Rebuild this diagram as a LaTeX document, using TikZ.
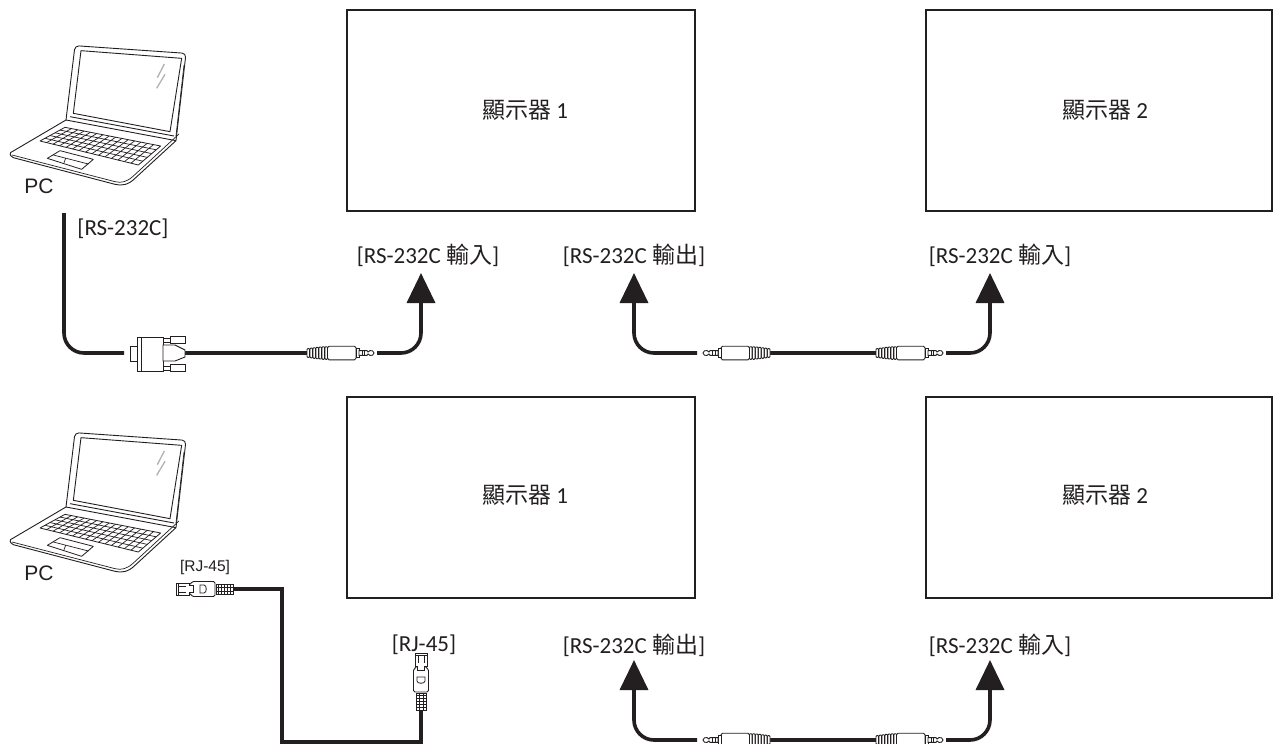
\documentclass[tikz,border=0pt]{standalone}
\usepackage{fontspec}
\setmainfont{Carlito}
\newfontfamily\cjk{Noto Sans CJK TC}
\newfontfamily\arial{Liberation Sans}
\usetikzlibrary{arrows.meta,calc}
\definecolor{ink}{HTML}{231F20}
\tikzset{
  x=1bp,y=-1bp,
  monitor/.style={draw=ink,line width=2bp,fill=white,minimum width=348bp,minimum height=201bp,inner sep=0pt,outer sep=0pt},
  lbl/.style={text=ink,font=\fontsize{23bp}{25bp}\selectfont,inner sep=0pt},
  pclbl/.style={text=ink,font=\arial\fontsize{21bp}{23bp}\selectfont,inner sep=0pt},
  cable/.style={draw=ink,line width=3.6bp},
  curved/.style={cable,rounded corners=20bp},
  arrowed/.style={curved,-{Triangle[length=30bp,width=28bp]}},
  thin part/.style={draw=ink,line width=0.9bp,fill=white},
  jack/.pic={
    \fill[white] (0,-6) rectangle (20,6);
    \foreach \u/\h in {0/4.4,3/4.9,6/5.3,9/5.7,12/6,15/6.3,18/6.3}{
      \draw[ink,line width=0.9bp,fill=white,rounded corners=0.8bp] (\u,-\h) rectangle (\u+2.6,\h);}
    \draw[thin part,rounded corners=1.5bp] (20.5,-6.8) rectangle (49,6.8);
    \draw[thin part] (49,-4.2) rectangle (52,4.2);
    \draw[thin part] (52,-2.4) -- (60,-2.4) -- (61,-1) -- (63,-2.4) -- (65.5,-2.2) -- (67,0) -- (65.5,2.2) -- (63,2.4) -- (61,1) -- (60,2.4) -- (52,2.4) -- cycle;
    \draw[ink,line width=0.7bp] (55,-2.4) -- (55,2.4) (57.5,-2.4) -- (57.5,2.4);
  },
  rjplug/.pic={
    \draw[thin part] (-17,-5) rectangle (0,5);
    \foreach \u in {-15,-12,...,-1}{\draw[ink,line width=1bp] (\u,-5) -- (\u,5);}
    \draw[ink,line width=1bp] (-17,-2) -- (0,-2) (-17,2) -- (0,2);
    \draw[thin part,rounded corners=1.5bp] (-18,-7.5) -- (-41,-7.5) -- (-43,-4) -- (-46,-4) -- (-46,4) -- (-43,4) -- (-41,7.5) -- (-18,7.5) -- cycle;
    \draw[thin part] (-44,-6) -- (-57,-6) -- (-57,6) -- (-44,6) -- (-44,3.5) -- (-40,3.5) -- (-40,-3.5) -- (-44,-3.5) -- cycle;
    \draw[ink,line width=0.8bp] (-55,-3) -- (-47,-3) (-55,3) -- (-47,3) (-55,-6) -- (-55,6);
    \draw[ink,line width=0.8bp,fill=white] (-33,-4) -- (-29,-4) .. controls (-26,-4) and (-26,4) .. (-29,4) -- (-33,4) -- cycle;
  },
  dbplug/.pic={
    \draw[thin part] (130,346) rectangle (137,361);
    \draw[thin part] (137,337) rectangle (163,371);
    \draw[ink,line width=0.8bp] (141,337) -- (141,371);
    \draw[thin part] (163,338) rectangle (170,342);
    \draw[thin part] (163,366) rectangle (170,370);
    \draw[thin part] (170,336) rectangle (185,343);
    \draw[thin part] (170,364) rectangle (185,371);
    \draw[thin part] (163,345) -- (175,345) -- (185,350) -- (185,357) -- (175,361) -- (163,361) -- cycle;
  },
  laptop/.pic={
    \begin{scope}[scale=1/3,line join=round]
    \draw[ink,line width=0.9bp,rounded corners=4bp] (198,270) -- (225,47) -- (558,70) -- (528,332);
    \draw[ink,line width=0.9bp] (243,62) -- (545,85) -- (510,305) -- (220,250) -- cycle;
    \draw[ink,line width=0.9bp] (198,270) -- (528,332);
    \draw[ink,line width=0.9bp] (210,260) -- (522,318);
    \draw[ink,line width=0.7bp] (552,105) -- (528,318);
    \draw[ink,line width=0.9bp,rounded corners=1.5bp] (198,270) -- (28,370) -- (36,382) -- (345,463);
    \draw[ink,line width=0.9bp] (345,463) .. controls (365,468) and (385,465) .. (405,445) -- (528,332);
    \draw[ink,line width=0.7bp] (36,375) -- (345,455) .. controls (365,460) and (380,455) .. (398,440) -- (537,312);
    \coordinate (kA) at (195,292); \coordinate (kB) at (482,348);
    \coordinate (kC) at (415,405); \coordinate (kD) at (120,333);
    \draw[ink,line width=0.8bp] (kA) -- (kB) -- (kC) -- (kD) -- cycle;
    \foreach \t in {0.2,0.4,0.6,0.8}{\draw[ink,line width=0.7bp] ($(kA)!\t!(kD)$) -- ($(kB)!\t!(kC)$);}
    \foreach \t in {0.067,0.133,...,0.95}{\draw[ink,line width=0.7bp] ($(kA)!\t!(kB)$) -- ($(kD)!\t!(kC)$);}
    \draw[ink,line width=0.8bp] (180,362) -- (280,388) -- (245,418) -- (142,385) -- cycle;
    \draw[ink,line width=0.7bp] (160,375) -- (265,402) (197,385) -- (192,398);
    \draw[gray!60,line width=1.3bp] (493,102) -- (472,143) (495,133) -- (470,175);
    \end{scope}
  },
}
\begin{document}
\begin{tikzpicture}
\useasboundingbox (0,0) rectangle (1273,744);
\clip (0,0) rectangle (1273,744);
\fill[white] (0,0) rectangle (1273,744);

% monitors
\node[monitor,anchor=north west] (m1) at (347,10) {};
\node[monitor,anchor=north west,minimum width=346bp] (m2) at (926,10) {};
\node[monitor,anchor=north west] (m3) at (347,397) {};
\node[monitor,anchor=north west,minimum width=346bp] (m4) at (926,397) {};
\node[lbl] (t1) at (525,110) {{\cjk 顯示器} 1};
\node[lbl] (t2) at (1105,110) {{\cjk 顯示器} 2};
\node[lbl] (t3) at (525,495) {{\cjk 顯示器} 1};
\node[lbl] (t4) at (1105,495) {{\cjk 顯示器} 2};

% laptops
\pic at (0,30) {laptop};
\pic at (0,417) {laptop};
\node[pclbl] (pc1) at (39,186) {PC};
\node[pclbl] (pc2) at (39,573) {PC};

% labels
\node[lbl] (l1) at (123,229) {[RS-232C]};
\node[lbl] (l2) at (428,255) {[RS-232C {\cjk 輸入}]};
\node[lbl] (l3) at (634,255) {[RS-232C {\cjk 輸出}]};
\node[lbl] (l4) at (1000,255) {[RS-232C {\cjk 輸入}]};
\node[text=ink,font=\arial\fontsize{15.5bp}{17bp}\selectfont,inner sep=0pt] (l5) at (205,567) {[RJ-45]};
\node[lbl] (l6) at (424,645) {[RJ-45]};
\node[lbl] (l7) at (634,645) {[RS-232C {\cjk 輸出}]};
\node[lbl] (l8) at (1000,645) {[RS-232C {\cjk 輸入}]};

% end points
\coordinate (pcout) at (64,213);
\coordinate (dbl) at (124,353);
\coordinate (dbr) at (185,353);
\coordinate (ja) at (307,353);
\coordinate (jae) at (377,353);
\coordinate (a1) at (421,273);
\coordinate (a2) at (634,273);
\coordinate (jb) at (697,353);
\coordinate (jbg) at (770,353);
\coordinate (jc) at (876,353);
\coordinate (jce) at (946,353);
\coordinate (a3) at (990,273);
\coordinate (a4) at (634,660);
\coordinate (jd) at (697,740);
\coordinate (jdg) at (770,740);
\coordinate (je) at (876,740);
\coordinate (jee) at (946,740);
\coordinate (a5) at (990,660);
\coordinate (rja) at (233,589);
\coordinate (rjb) at (421,710);

% cables
\draw[curved] (pcout) |- (dbl);
\draw[cable] (dbr) -- (ja);
\draw[arrowed] (jae) -| (a1);
\draw[arrowed] (jb) -| (a2);
\draw[cable] (jbg) -- (jc);
\draw[arrowed] (jce) -| (a3);
\draw[arrowed] (jd) -| (a4);
\draw[cable] (jdg) -- (je);
\draw[arrowed] (jee) -| (a5);
\draw[cable,line join=miter] (rja) -| (282,742) -| (rjb);

% plugs
\pic at (0,0) {dbplug};
\pic at (ja) {jack};
\pic[xscale=-1] at (jbg) {jack};
\pic at (jc) {jack};
\pic[xscale=-1] at (jdg) {jack};
\pic at (je) {jack};
\pic at (rja) {rjplug};
\pic[rotate=-90] at (rjb) {rjplug};
\end{tikzpicture}
\end{document}
